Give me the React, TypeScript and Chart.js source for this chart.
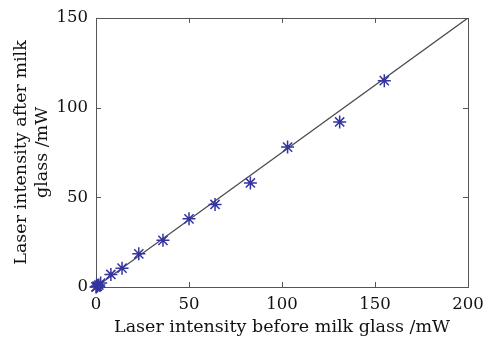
import React, { useEffect, useRef } from "react";
import { Chart, registerables } from "chart.js";

Chart.register(...registerables);

const intensityBefore = [0, 0.3, 0.7, 1.5, 2.5, 8, 14, 23, 36, 50, 64, 83, 103, 131, 155];
const intensityAfter = [0, 0.2, 0.5, 1.1, 2.2, 7, 10.5, 18.5, 26, 38, 46, 58, 78, 92, 115];
const fitX = [0, 200];
const fitY = [0, 150];
const xTicks = [0, 50, 100, 150, 200];
const yTicks = [0, 50, 100, 150];

const FONT = "'DejaVu Serif', serif";

const frameTicks = {
  id: "frameTicks",
  beforeDatasetsDraw(chart: any) {
    const { ctx, chartArea } = chart;
    const { left, right, top, bottom } = chartArea;
    const xs = chart.scales.x;
    const ys = chart.scales.y;
    ctx.save();
    ctx.strokeStyle = "#555";
    ctx.lineWidth = 1;
    ctx.beginPath();
    const len = 5;
    xTicks.forEach((v) => {
      const px = Math.round(xs.getPixelForValue(v)) + 0.5;
      ctx.moveTo(px, bottom);
      ctx.lineTo(px, bottom - len);
      ctx.moveTo(px, top);
      ctx.lineTo(px, top + len);
    });
    yTicks.forEach((v) => {
      const py = Math.round(ys.getPixelForValue(v)) + 0.5;
      ctx.moveTo(left, py);
      ctx.lineTo(left + len, py);
      ctx.moveTo(right, py);
      ctx.lineTo(right - len, py);
    });
    ctx.stroke();
    ctx.strokeRect(Math.round(left) + 0.5, Math.round(top) + 0.5, Math.round(right - left), Math.round(bottom - top));
    ctx.restore();
  },
};

export default function App() {
  const ref = useRef<HTMLCanvasElement | null>(null);
  useEffect(() => {
    document.body.style.margin = "0";
    const canvas = ref.current!;
    const chart = new Chart(canvas, {
      type: "scatter",
      data: {
        datasets: [
          {
            label: "fit",
            data: fitX.map((x, i) => ({ x, y: fitY[i] })),
            showLine: true,
            borderColor: "#4a4a4a",
            borderWidth: 1.2,
            pointRadius: 0,
            order: 2,
          },
          {
            label: "measured",
            data: intensityBefore.map((x, i) => ({ x, y: intensityAfter[i] })),
            pointStyle: "star",
            pointRadius: 6.5,
            borderColor: "#34349e",
            backgroundColor: "#34349e",
            pointBorderWidth: 1.5,
            clip: false as any,
            order: 1,
          },
        ],
      },
      plugins: [frameTicks],
      options: {
        responsive: false,
        animation: false,
        layout: { padding: { top: 15, right: 26, left: 0, bottom: 0 } },
        plugins: { legend: { display: false }, tooltip: { enabled: false } },
        scales: {
          x: {
            type: "linear",
            min: 0,
            max: 200,
            afterBuildTicks: (s: any) => {
              s.ticks = xTicks.map((v) => ({ value: v }));
            },
            ticks: { font: { family: FONT, size: 16.5 }, color: "#111", padding: 8, maxRotation: 0 },
            grid: { display: false, drawTicks: false },
            border: { display: false },
            title: {
              display: true,
              text: "Laser intensity before milk glass /mW",
              font: { family: FONT, size: 17.5 },
              color: "#111",
              padding: { top: 0, bottom: 0 },
            },
            afterFit: (s: any) => {
              s.height = 51;
            },
          },
          y: {
            type: "linear",
            min: 0,
            max: 150,
            afterBuildTicks: (s: any) => {
              s.ticks = yTicks.map((v) => ({ value: v }));
            },
            ticks: { font: { family: FONT, size: 16.5 }, color: "#111", padding: 8 },
            grid: { display: false, drawTicks: false },
            border: { display: false },
            title: {
              display: true,
              text: ["Laser intensity after milk", "glass /mW"],
              font: { family: FONT, size: 17.5, lineHeight: 1.2 },
              color: "#111",
              padding: { top: 11, bottom: 0 },
            },
            afterFit: (s: any) => {
              s.width = 96;
            },
          },
        },
      },
    });
    return () => chart.destroy();
  }, []);
  return (
    <div style={{ position: "absolute", left: 0, top: 0, width: 494, height: 338, background: "#fff" }}>
      <canvas ref={ref} width={494} height={338} />
    </div>
  );
}
